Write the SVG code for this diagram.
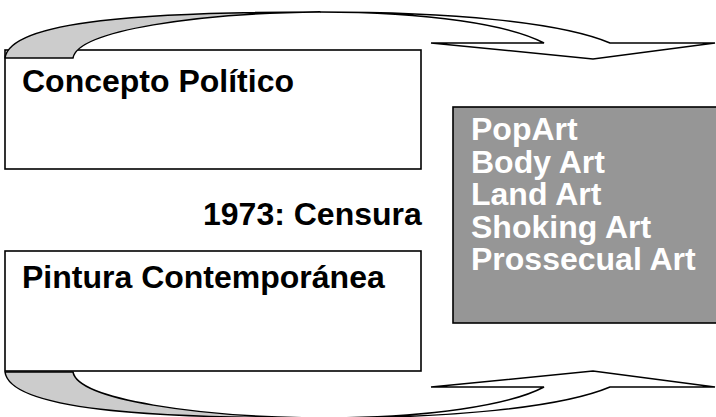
<svg xmlns="http://www.w3.org/2000/svg" width="716" height="417" viewBox="0 0 716 417">
<style>
.box{fill:#fff;stroke:#000;stroke-width:1.6}
.gbox{fill:#969696;stroke:#000;stroke-width:1.6}
.t{font-family:"Liberation Sans",Arial,sans-serif;font-weight:bold;font-size:32px;fill:#000}
.w{fill:#fff}
.back{fill:#cccccc;stroke:#000;stroke-width:1.5;stroke-linejoin:round}
.front{fill:#fff;stroke:#000;stroke-width:1.5;stroke-linejoin:miter}
</style>
<defs>
<g id="arrowShape">
<path class="back" d="M5,58 C10,20 150,12 320,12 C200,13 78,30 73,58 Z"/>
<path class="front" d="M320,12 C450,12 560,22 610,43 L715,43 L593,59 L431,43 L544,43 C510,25 430,12 320,12 Z"/>
</g>
</defs>
<g id="node-concepto">
<rect class="box" x="5" y="50" width="416" height="119"/>
<text class="t" x="22" y="92">Concepto Político</text>
</g>
<g id="node-pintura">
<rect class="box" x="5" y="251" width="416" height="120"/>
<text class="t" x="22" y="288">Pintura Contemporánea</text>
</g>
<g id="node-censura">
<text class="t" x="203" y="225">1973: Censura</text>
</g>
<g id="node-arts">
<rect class="gbox" x="453" y="107" width="280" height="216"/>
<text class="t w" x="471" y="140">PopArt</text>
<text class="t w" x="471" y="173">Body Art</text>
<text class="t w" x="471" y="205">Land Art</text>
<text class="t w" x="471" y="238">Shoking Art</text>
<text class="t w" x="471" y="270">Prossecual Art</text>
</g>
<g id="connectors">
<use href="#arrowShape"/>
<use href="#arrowShape" transform="translate(0,430) scale(1,-1)"/>
</g>
</svg>
